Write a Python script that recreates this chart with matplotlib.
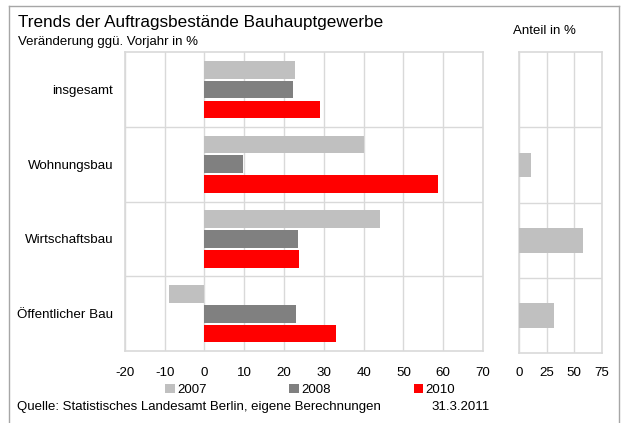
import numpy as np
import matplotlib
matplotlib.use("Agg")
import matplotlib.pyplot as plt
from matplotlib.patches import Patch
from matplotlib.lines import Line2D

plt.rcParams['font.family'] = ['Liberation Sans', 'DejaVu Sans']

# ---- data ----
categories = ["insgesamt", "Wohnungsbau", "Wirtschaftsbau", "Öffentlicher Bau"]
years = ["2007", "2008", "2010"]
v2007 = [22.8, 40.0, 44.1, -8.9]
v2008 = [22.3, 9.8, 23.6, 23.1]
v2010 = [29.1, 58.8, 23.8, 33.0]
share = [np.nan, 11.0, 58.0, 32.0]
main_ticks = [-20, -10, 0, 10, 20, 30, 40, 50, 60, 70]
share_ticks = [0, 25, 50, 75]

colors = ["#C0C0C0", "#808080", "#FF0000"]
grid_c = "#D9D9D9"

W, H = 621, 423
fig = plt.figure(figsize=(W / 100, H / 100), dpi=100)

def fx(px):
    return px / W

def fy(py):
    return 1 - py / H

ax = fig.add_axes([fx(124.8), fy(351), fx(483) - fx(124.8), fy(52.3) - fy(351)])
ax2 = fig.add_axes([fx(518.8), fy(353), fx(602) - fx(518.8), fy(52.3) - fy(353)])

y = np.arange(len(categories))
off = 0.267
bh = 0.237
for i, (vals, c) in enumerate(zip([v2007, v2008, v2010], colors)):
    ax.barh(y + (i - 1) * off, vals, height=bh, color=c, zorder=3)

ax.set_xlim(main_ticks[0], main_ticks[-1])
ax.set_ylim(len(categories) - 0.5, -0.5)
ax.set_xticks(main_ticks)
ax.set_xticklabels([str(t) for t in main_ticks])
ax.set_yticks(y)
ax.set_yticklabels(categories)
ax.set_yticks(np.arange(len(categories) - 1) + 0.5, minor=True)
ax.grid(True, axis='x', which='major', color=grid_c, lw=1, zorder=0)
ax.grid(True, axis='y', which='minor', color=grid_c, lw=1, zorder=0)
ax.tick_params(axis='both', which='both', length=0, labelsize=9.6, colors='black')
ax.tick_params(axis='x', pad=11.5)
ax.tick_params(axis='y', pad=8.5)
for s in ax.spines.values():
    s.set_color(grid_c)
    s.set_linewidth(1.2)

ax2.barh(y, share, height=0.33, color=colors[0], zorder=3)
ax2.set_xlim(share_ticks[0], share_ticks[-1])
ax2.set_ylim(len(categories) - 0.5, -0.5)
ax2.set_xticks(share_ticks)
ax2.set_xticklabels([str(t) for t in share_ticks])
ax2.set_yticks([])
ax2.set_yticks(np.arange(len(categories) - 1) + 0.5, minor=True)
ax2.grid(True, axis='x', which='major', color=grid_c, lw=1, zorder=0)
ax2.grid(True, axis='y', which='minor', color=grid_c, lw=1, zorder=0)
ax2.tick_params(axis='both', which='both', length=0, labelsize=9.6, colors='black')
ax2.tick_params(axis='x', pad=10)
for s in ax2.spines.values():
    s.set_color(grid_c)
    s.set_linewidth(1.2)

# texts
fig.text(fx(18), fy(27.5), "Trends der Auftragsbestände Bauhauptgewerbe",
         fontsize=12.3, va='baseline', ha='left')
fig.text(fx(18), fy(45), "Veränderung ggü. Vorjahr in %",
         fontsize=9.5, va='baseline', ha='left')
fig.text(fx(513), fy(34), "Anteil in %", fontsize=9.5, va='baseline', ha='left')
fig.text(fx(16.6), fy(407), "Quelle: Statistisches Landesamt Berlin, eigene Berechnungen",
         fontsize=9.5, va='center', ha='left')
fig.text(fx(431), fy(407), "31.3.2011", fontsize=9.5, va='center', ha='left')

# legend
handles = [Patch(facecolor=c, edgecolor='none') for c in colors]
fig.legend(handles, years, loc='center left', bbox_to_anchor=(fx(165.3), fy(390)),
           ncol=3, frameon=False, fontsize=9.5, handlelength=0.74, handleheight=0.74,
           handletextpad=0.15, columnspacing=6.28, borderpad=0, borderaxespad=0)

# outer frame
fc = "#A6A6A6"
fig.add_artist(Line2D([fx(9), fx(9)], [fy(6), fy(423)], color=fc, lw=1, transform=fig.transFigure))
fig.add_artist(Line2D([fx(9), fx(619)], [fy(6), fy(6)], color=fc, lw=1, transform=fig.transFigure))
fig.add_artist(Line2D([fx(619), fx(619)], [fy(6), fy(423)], color=fc, lw=1, transform=fig.transFigure))

fig.savefig("out.png", dpi=100)
